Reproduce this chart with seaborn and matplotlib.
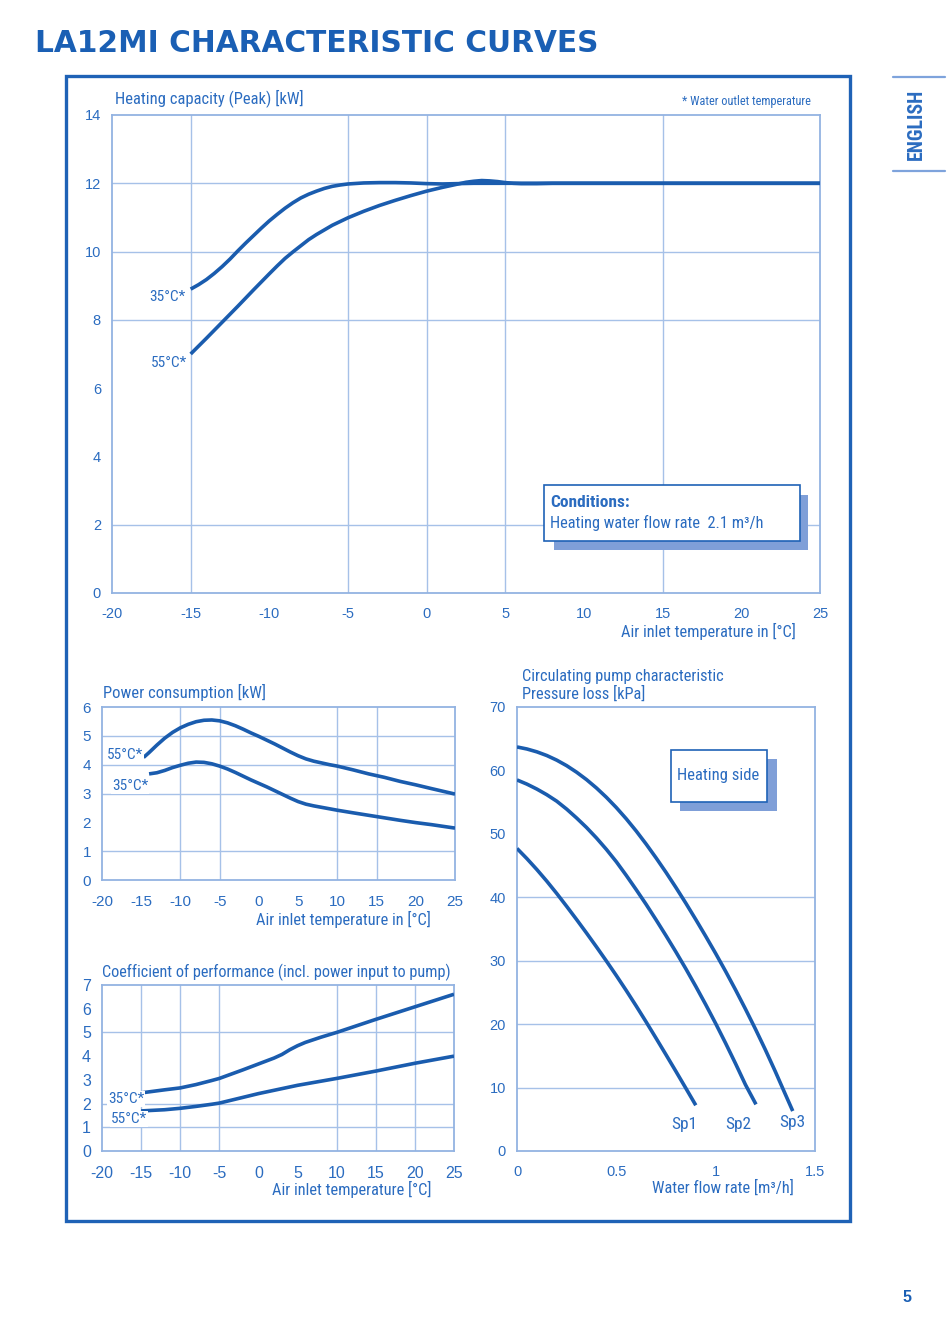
import numpy as np
import pandas as pd
import seaborn as sns
import matplotlib
matplotlib.use("Agg")
import matplotlib.pyplot as plt
import matplotlib.font_manager as fm
from matplotlib.patches import Rectangle
from matplotlib.lines import Line2D
from matplotlib.ticker import MultipleLocator

# ---------------- DATA ----------------
# Heating capacity (Peak) [kW] vs air inlet temperature [°C]
cap_t35 = [-15, -14.5, -14, -13.5, -13, -12.5, -12, -11.5, -11, -10.5, -10, -9.5, -9, -8.5, -8, -7.5, -7,
           -6.5, -6, -5.5, -5, -4, -3, -2, -1, 0, 1, 2, 3, 5, 10, 15, 20, 25]
cap_35 = [8.9, 9.03, 9.18, 9.36, 9.56, 9.78, 10.02, 10.25, 10.47, 10.69, 10.9, 11.09, 11.27, 11.43, 11.57,
          11.68, 11.77, 11.85, 11.91, 11.95, 11.98, 12.01, 12.02, 12.02, 12.01, 11.99, 11.98, 11.99, 12.0,
          12.0, 12.0, 12.0, 12.0, 12.0]
cap_t55 = [-15, -14, -13, -12, -11, -10, -9.5, -9, -8.5, -8, -7.5, -7, -6, -5, -4, -3, -2, -1, 0, 1, 2, 2.5,
           3, 3.5, 4, 4.5, 5, 5.5, 6, 7, 8, 10, 15, 20, 25]
cap_55 = [7.0, 7.46, 7.93, 8.4, 8.88, 9.35, 9.58, 9.8, 9.99, 10.17, 10.35, 10.5, 10.77, 10.99, 11.18, 11.35,
          11.5, 11.64, 11.77, 11.88, 11.98, 12.03, 12.06, 12.08, 12.07, 12.05, 12.02, 12.0, 11.99, 11.99, 12.0,
          12.0, 12.0, 12.0, 12.0]

# Power consumption [kW]
pow_t55 = [-14.7, -14, -13, -12, -11, -10, -9, -8, -7, -6, -5, -4, -3, -2, -1, 0, 1, 2, 3, 4, 5, 6, 7, 8, 9, 10,
           12, 14, 16, 18, 20, 22, 25]
pow_55 = [4.25, 4.42, 4.68, 4.92, 5.12, 5.28, 5.4, 5.49, 5.54, 5.55, 5.52, 5.45, 5.35, 5.23, 5.1, 4.98, 4.85,
          4.72, 4.58, 4.44, 4.31, 4.2, 4.12, 4.06, 4.0, 3.95, 3.82, 3.68, 3.56, 3.42, 3.3, 3.17, 2.98]
pow_t35 = [-14, -13, -12, -11, -10, -9, -8, -7, -6, -5, -4, -3, -2, -1, 0, 1, 2, 3, 4, 5, 6, 7, 8, 10, 12, 15,
           18, 20, 22, 25]
pow_35 = [3.68, 3.72, 3.8, 3.9, 3.98, 4.05, 4.09, 4.08, 4.03, 3.95, 3.85, 3.73, 3.6, 3.47, 3.35, 3.23, 3.1,
          2.97, 2.84, 2.72, 2.63, 2.57, 2.52, 2.42, 2.33, 2.2, 2.07, 1.99, 1.92, 1.8]

# Coefficient of performance
cop_t35 = [-15, -12, -10, -8, -6, -5, -4, -2, 0, 2, 3, 4, 5, 6, 8, 10, 15, 20, 25]
cop_35 = [2.45, 2.58, 2.66, 2.8, 2.97, 3.06, 3.18, 3.42, 3.67, 3.92, 4.07, 4.27, 4.44, 4.58, 4.8, 5.0, 5.55,
          6.08, 6.61]
cop_t55 = [-15, -12, -10, -8, -6, -5, -3, 0, 3, 5, 10, 15, 20, 25]
cop_55 = [1.69, 1.74, 1.8, 1.88, 1.97, 2.02, 2.18, 2.42, 2.63, 2.77, 3.06, 3.37, 3.7, 4.0]

# Circulating pump characteristic: pressure loss [kPa] vs water flow rate [m3/h]
flow_sp1 = [0, 0.05, 0.1, 0.15, 0.2, 0.25, 0.3, 0.35, 0.4, 0.45, 0.5, 0.55, 0.6, 0.65, 0.7, 0.75, 0.8, 0.85, 0.9]
dp_sp1 = [47.7, 46.09, 44.37, 42.54, 40.6, 38.57, 36.49, 34.36, 32.18, 29.95, 27.66, 25.3, 22.86, 20.35, 17.78,
          15.18, 12.55, 9.89, 7.21]
flow_sp2 = [0, 0.05, 0.1, 0.15, 0.2, 0.25, 0.3, 0.35, 0.4, 0.45, 0.5, 0.55, 0.6, 0.65, 0.7, 0.75, 0.8, 0.85,
            0.9, 0.95, 1.0, 1.05, 1.1, 1.15, 1.203]
dp_sp2 = [58.5, 57.84, 57.06, 56.17, 55.15, 53.9, 52.5, 51.0, 49.35, 47.55, 45.6, 43.45, 41.2, 38.88, 36.45,
          33.95, 31.38, 28.72, 25.95, 23.08, 20.1, 17.0, 13.78, 10.45, 7.35]
flow_sp3 = [0, 0.05, 0.1, 0.15, 0.2, 0.25, 0.3, 0.35, 0.4, 0.45, 0.5, 0.55, 0.6, 0.65, 0.7, 0.75, 0.8, 0.85,
            0.9, 0.95, 1.0, 1.05, 1.1, 1.15, 1.2, 1.25, 1.3, 1.35, 1.388]
dp_sp3 = [63.7, 63.38, 62.93, 62.35, 61.62, 60.75, 59.72, 58.55, 57.23, 55.76, 54.14, 52.37, 50.45, 48.39,
          46.21, 43.93, 41.54, 39.06, 36.49, 33.85, 31.14, 28.33, 25.41, 22.38, 19.24, 15.97, 12.55, 8.99, 6.3]

temp_ticks = [-20, -15, -10, -5, 0, 5, 10, 15, 20, 25]
flow_ticks = [0, 0.5, 1, 1.5]
flow_tick_labels = ["0", "0.5", "1", "1.5"]

# ---------------- STYLE ----------------
sns.set_theme(style="white")
names = {f.name for f in fm.fontManager.ttflist}
NARROW = next((n for n in ["Liberation Sans Narrow", "Roboto Condensed", "Liberation Sans"] if n in names),
              "DejaVu Sans")
SANS = "Liberation Sans" if "Liberation Sans" in names else "DejaVu Sans"
plt.rcParams["font.family"] = [SANS, "DejaVu Sans"]
plt.rcParams["axes.unicode_minus"] = False

TXT = "#2b6cc0"
CURVE = "#1a5cae"
GRID = "#a6c1e8"
SPINE = "#93b3e2"
FRAME = "#1f62b6"
SHADOW = "#7f9fd8"
LBL = 11.8

W, H = 950, 1338
fig = plt.figure(figsize=(9.5, 13.38), dpi=100)
fig.patch.set_facecolor("white")


def P(x, y):
    return x / W, 1 - y / H


def ftext(x, y, s, **kw):
    kw.setdefault("color", TXT)
    kw.setdefault("va", "center")
    kw.setdefault("family", [NARROW, "DejaVu Sans"])
    return fig.text(*P(x, y), s, **kw)


def frect(x0, y0, x1, y1, **kw):
    fig.add_artist(Rectangle(P(x0, y1), (x1 - x0) / W, (y1 - y0) / H, transform=fig.transFigure, **kw))


def make_ax(l, t, r, b):
    ax = fig.add_axes([l / W, 1 - b / H, (r - l) / W, (b - t) / H])
    ax.set_facecolor("white")
    for s in ax.spines.values():
        s.set_color(SPINE)
        s.set_linewidth(1.3)
    ax.tick_params(which="both", direction="in", colors=SPINE, labelcolor=TXT, top=False, right=False)
    ax.tick_params(which="major", length=5, width=0.9)
    ax.tick_params(which="minor", length=3.5, width=0.8)
    ax.grid(False)
    return ax


def grid(ax, xs=(), ys=()):
    for v in xs:
        ax.axvline(v, color=GRID, lw=1.0, zorder=0.5)
    for v in ys:
        ax.axhline(v, color=GRID, lw=1.0, zorder=0.5)


def curve(ax, x, y):
    df = pd.DataFrame({"x": x, "y": y})
    sns.lineplot(data=df, x="x", y="y", ax=ax, color=CURVE, lw=2.6, solid_capstyle="butt", zorder=3)
    ax.set_xlabel("")
    ax.set_ylabel("")


# ---------------- TOP: heating capacity ----------------
ax1 = make_ax(112, 115, 820, 593)
grid(ax1, xs=[-15, -5, 0, 5, 15], ys=[2, 8, 10, 12])
curve(ax1, cap_t35, cap_35)
curve(ax1, cap_t55, cap_55)
ax1.set_xlim(-20, 25)
ax1.set_ylim(0, 14)
ax1.set_xticks(temp_ticks)
ax1.set_yticks(range(0, 15, 2))
ax1.xaxis.set_minor_locator(MultipleLocator(1))
ax1.yaxis.set_minor_locator(MultipleLocator(0.4))
ax1.tick_params(axis="x", which="major", pad=10, labelsize=10.5)
ax1.tick_params(axis="y", which="major", pad=8, labelsize=10.5)

ftext(115, 98, "Heating capacity (Peak) [kW]", fontsize=12)
ftext(811, 101, "* Water outlet temperature", fontsize=8.8, ha="right")
ftext(186, 297, "35°C*", fontsize=11, ha="right")
ftext(187, 363, "55°C*", fontsize=11, ha="right")
ftext(796, 631, "Air inlet temperature in [°C]", fontsize=LBL, ha="right")

frect(554, 495, 808, 550, facecolor=SHADOW, edgecolor="none", zorder=5)
frect(544, 485, 800, 541, facecolor="white", edgecolor=FRAME, lw=1.2, zorder=6)
ftext(550, 503, "Conditions:", fontsize=12.5, fontweight="bold", zorder=7)
ftext(550, 523, "Heating water flow rate  2.1 m³/h", fontsize=LBL, zorder=7)

# ---------------- POWER CONSUMPTION ----------------
ax2 = make_ax(102, 707, 455, 880)
grid(ax2, xs=[-10, -5, 10, 15], ys=[1, 3, 4, 5])
curve(ax2, pow_t55, pow_55)
curve(ax2, pow_t35, pow_35)
ax2.set_xlim(-20, 25)
ax2.set_ylim(0, 6)
ax2.set_xticks(temp_ticks)
ax2.set_yticks(range(0, 7))
ax2.xaxis.set_minor_locator(MultipleLocator(1))
ax2.yaxis.set_minor_locator(MultipleLocator(0.1))
ax2.tick_params(axis="x", which="major", pad=10.5, labelsize=11)
ax2.tick_params(axis="y", which="major", pad=8, labelsize=11)
ax2.tick_params(which="minor", length=3)

ftext(103, 692, "Power consumption [kW]", fontsize=12)
ftext(107, 755, "55°C*", fontsize=11, zorder=5, bbox=dict(facecolor="white", edgecolor="none", pad=0.5))
ftext(112, 786, "35°C*", fontsize=11, zorder=5, bbox=dict(facecolor="white", edgecolor="none", pad=0.5))
ftext(431, 919, "Air inlet temperature in [°C]", fontsize=LBL, ha="right")

# ---------------- COP ----------------
ax3 = make_ax(102, 985, 454, 1151)
grid(ax3, xs=[-15, -10, -5, 10, 15, 20], ys=[1, 2, 5])
curve(ax3, cop_t35, cop_35)
curve(ax3, cop_t55, cop_55)
ax3.set_xlim(-20, 25)
ax3.set_ylim(0, 7)
ax3.set_xticks(temp_ticks)
ax3.set_yticks(range(0, 8))
ax3.xaxis.set_minor_locator(MultipleLocator(1))
ax3.yaxis.set_minor_locator(MultipleLocator(0.2))
ax3.tick_params(axis="x", which="major", pad=10.5, labelsize=11.5)
ax3.tick_params(axis="y", which="major", pad=8, labelsize=11.5)

ftext(102, 972, "Coefficient of performance (incl. power input to pump)", fontsize=11.7)
ftext(108, 1099, "35°C*", fontsize=11, zorder=5, bbox=dict(facecolor="white", edgecolor="none", pad=0.5))
ftext(111, 1119, "55°C*", fontsize=11, zorder=5, bbox=dict(facecolor="white", edgecolor="none", pad=0.5))
ftext(431, 1189, "Air inlet temperature [°C]", fontsize=LBL, ha="right")

# ---------------- PUMP ----------------
ax4 = make_ax(517, 707, 815, 1151)
grid(ax4, ys=[10, 20, 30, 40])
curve(ax4, flow_sp1, dp_sp1)
curve(ax4, flow_sp2, dp_sp2)
curve(ax4, flow_sp3, dp_sp3)
ax4.set_xlim(0, 1.5)
ax4.set_ylim(0, 70)
ax4.set_xticks(flow_ticks)
ax4.set_xticklabels(flow_tick_labels)
ax4.set_yticks(range(0, 71, 10))
ax4.xaxis.set_minor_locator(MultipleLocator(0.1))
ax4.yaxis.set_minor_locator(MultipleLocator(2))
ax4.tick_params(axis="x", which="major", pad=10, labelsize=10.5)
ax4.tick_params(axis="y", which="major", pad=8, labelsize=10.5)

ftext(522, 676, "Circulating pump characteristic", fontsize=LBL)
ftext(522, 694, "Pressure loss [kPa]", fontsize=LBL)
frect(680, 759, 777, 811, facecolor=SHADOW, edgecolor="none", zorder=5)
frect(671, 750, 767, 802, facecolor="white", edgecolor=FRAME, lw=1.2, zorder=6)
ftext(718, 775, "Heating side", fontsize=12, ha="center", zorder=7)
ftext(684, 1124, "Sp1", fontsize=12.5, ha="center")
ftext(738, 1124, "Sp2", fontsize=12.5, ha="center")
ftext(792, 1123, "Sp3", fontsize=12.5, ha="center")
ftext(794, 1188, "Water flow rate [m³/h]", fontsize=LBL, ha="right")

# ---------------- PAGE DECORATION ----------------
frect(66, 76, 850, 1221, facecolor="none", edgecolor=FRAME, lw=2.4, zorder=1)
title = fig.text(*P(35, 43), "LA12MI CHARACTERISTIC CURVES", color="#1a5fb4", fontsize=21,
                 fontweight="heavy", va="center", ha="left", family=["DejaVu Sans"])
for yy in (77, 171):
    fig.add_artist(Line2D([893 / W, 945 / W], [1 - yy / H, 1 - yy / H], transform=fig.transFigure,
                          color="#7ea3dc", lw=1.6))
eng = fig.text(*P(916, 124), "ENGLISH", color=TXT, fontsize=15, fontweight="bold", rotation=90,
               ha="center", va="center", family=[NARROW, "DejaVu Sans"])
fig.text(*P(907, 1298), "5", color="#1a5fb4", fontsize=11.5, fontweight="bold", ha="center", va="center")

# fit title width and ENGLISH length to the reference extents
fig.canvas.draw()
rend = fig.canvas.get_renderer()
tw = title.get_window_extent(rend).width
title.set_fontsize(title.get_fontsize() * 562 / tw)
eh = eng.get_window_extent(rend).height
eng.set_fontsize(eng.get_fontsize() * 72 / eh)

fig.savefig("out.png", dpi=100, facecolor="white")
